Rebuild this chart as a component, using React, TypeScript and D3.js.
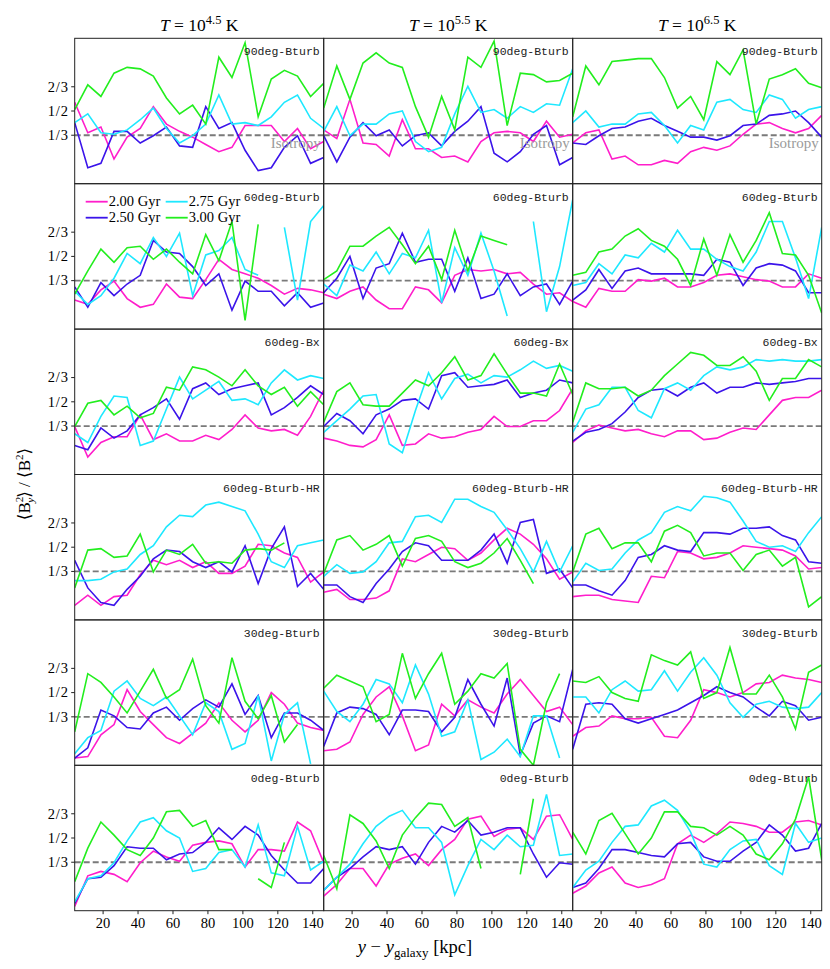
import React from "react";
import * as d3 from "d3";

// bin centres along the slab (kpc)
const xs = [3.75, 11.25, 18.75, 26.25, 33.75, 41.25, 48.75, 56.25, 63.75, 71.25, 78.75, 86.25, 93.75, 101.25, 108.75, 116.25, 123.75, 131.25, 138.75, 146.25];

const times = ["2.00 Gyr", "2.50 Gyr", "2.75 Gyr", "3.00 Gyr"];
const colors = ["#ff1ecb", "#3b14ea", "#1ee8ff", "#22ee1e"];
const temps = ["4.5", "5.5", "6.5"];
const setups = ["90deg-Bturb", "60deg-Bturb", "60deg-Bx", "60deg-Bturb-HR", "30deg-Bturb", "0deg-Bturb"];
const xTicks = [20, 40, 60, 80, 100, 120, 140];
const yTicks = [1 / 3, 1 / 2, 2 / 3];
const yTickLabels = ["1/3", "1/2", "2/3"];

type S = (number | null)[];
const _ = null;

// each panel: [2.00, 2.50, 2.75, 3.00 Gyr]
const bturb90_T45: S[] = [
  [0.56, 0.35, 0.39, 0.17, 0.32, 0.38, 0.53, 0.41, 0.36, 0.32, 0.27, 0.22, 0.25, 0.40, 0.40, 0.40, 0.29, 0.38, 0.24, 0.29],
  [0.42, 0.11, 0.14, 0.36, 0.36, 0.28, 0.33, 0.39, 0.26, 0.25, 0.53, 0.38, 0.42, 0.23, 0.09, 0.11, 0.25, 0.33, 0.14, 0.18],
  [0.42, 0.48, 0.35, 0.34, 0.37, 0.44, 0.52, 0.38, 0.28, 0.33, 0.41, 0.61, 0.41, 0.42, 0.40, 0.46, 0.56, 0.61, 0.45, 0.38],
  [0.51, 0.68, 0.60, 0.76, 0.80, 0.79, 0.74, 0.59, 0.48, 0.54, 0.41, 0.87, 0.73, 0.97, 0.46, 0.72, 0.78, 0.74, 0.60, 0.69],
];
const bturb90_T55: S[] = [
  [0.37, 0.31, 0.58, 0.28, 0.27, 0.19, 0.44, 0.24, 0.24, 0.18, 0.19, 0.15, 0.29, 0.35, 0.36, 0.35, 0.29, 0.43, 0.32, 0.34],
  [0.33, 0.15, 0.32, 0.42, 0.33, 0.37, 0.26, 0.33, 0.35, 0.26, 0.36, 0.43, 0.53, 0.21, 0.15, 0.22, 0.34, 0.40, 0.13, 0.18],
  [0.36, 0.53, 0.33, 0.41, 0.41, 0.48, 0.50, 0.29, 0.22, 0.25, 0.48, 0.67, 0.49, 0.51, 0.45, 0.53, 0.49, 0.55, 0.54, 0.79],
  [0.52, 0.81, 0.58, 0.83, 0.90, 0.83, 0.80, 0.53, 0.32, 0.60, 0.37, 0.87, 0.80, 0.98, 0.40, 0.76, 0.75, 0.70, 0.71, 0.76],
];
const bturb90_T65: S[] = [
  [0.28, 0.35, 0.37, 0.17, 0.19, 0.13, 0.13, 0.16, 0.14, 0.22, 0.25, 0.23, 0.26, 0.34, 0.41, 0.42, 0.38, 0.35, 0.38, 0.47],
  [0.28, 0.27, 0.33, 0.38, 0.39, 0.43, 0.45, 0.40, 0.36, 0.32, 0.32, 0.30, 0.33, 0.40, 0.41, 0.47, 0.48, 0.50, 0.42, 0.32],
  [0.42, 0.50, 0.39, 0.41, 0.41, 0.48, 0.49, 0.40, 0.28, 0.40, 0.37, 0.56, 0.58, 0.51, 0.49, 0.61, 0.58, 0.45, 0.51, 0.53],
  [0.46, 0.81, 0.68, 0.84, 0.85, 0.86, 0.86, 0.73, 0.52, 0.60, 0.44, 0.84, 0.75, 0.92, 0.41, 0.72, 0.75, 0.79, 0.69, 0.66],
];

const bturb60_T45: S[] = [
  [0.20, 0.17, 0.27, 0.33, 0.21, 0.15, 0.17, 0.31, 0.22, 0.21, 0.34, 0.48, 0.41, 0.38, 0.35, 0.30, 0.24, 0.28, 0.27, 0.25],
  [0.29, 0.15, 0.32, 0.23, 0.31, 0.37, 0.61, 0.53, 0.52, 0.43, 0.30, 0.38, 0.13, 0.33, 0.26, 0.26, 0.16, 0.25, 0.15, 0.18],
  [0.26, 0.17, 0.23, 0.35, 0.52, 0.45, 0.63, 0.50, 0.66, 0.23, 0.51, 0.54, 0.63, 0.41, 0.37, _, 0.70, 0.20, 0.74, 0.85],
  [0.24, 0.40, 0.55, 0.46, 0.56, 0.57, 0.48, 0.55, 0.46, 0.38, 0.65, 0.47, 0.74, 0.06, 0.72, _, _, _, _, _],
];
const bturb60_T55: S[] = [
  [0.24, 0.21, 0.26, 0.29, 0.20, 0.14, 0.14, 0.29, 0.27, 0.18, 0.37, 0.41, 0.40, 0.41, 0.38, 0.39, 0.31, 0.24, 0.25, 0.19],
  [0.25, 0.35, 0.50, 0.21, 0.42, 0.45, 0.66, 0.46, 0.48, 0.48, 0.26, 0.49, 0.21, 0.24, 0.38, 0.23, 0.29, 0.31, 0.17, 0.33],
  [0.31, 0.23, 0.44, 0.40, 0.53, 0.38, 0.52, 0.49, 0.68, 0.18, 0.56, 0.37, 0.66, 0.40, 0.09, _, 0.74, 0.12, 0.43, 0.89],
  [0.34, 0.40, 0.57, 0.57, 0.64, 0.70, 0.58, 0.45, 0.57, 0.34, 0.68, 0.40, 0.64, 0.61, 0.58, _, _, _, _, _],
];
const bturb60_T65: S[] = [
  [0.19, 0.15, 0.28, 0.26, 0.26, 0.34, 0.33, 0.35, 0.29, 0.29, 0.32, 0.37, 0.38, 0.36, 0.34, 0.33, 0.29, 0.29, 0.38, 0.35],
  [0.20, 0.27, 0.41, 0.28, 0.40, 0.42, 0.38, 0.38, 0.38, 0.38, 0.37, 0.48, 0.46, 0.30, 0.42, 0.45, 0.44, 0.40, 0.25, 0.25],
  [0.30, 0.32, 0.45, 0.38, 0.51, 0.49, 0.59, 0.53, 0.68, 0.55, 0.55, 0.48, 0.43, 0.40, 0.53, 0.74, 0.74, 0.49, 0.21, 0.70],
  [0.37, 0.39, 0.53, 0.55, 0.64, 0.69, 0.61, 0.57, 0.48, 0.30, 0.62, 0.37, 0.65, 0.46, 0.61, 0.80, 0.52, 0.51, 0.37, 0.11],
];

const bx60_T45: S[] = [
  [0.33, 0.12, 0.22, 0.26, 0.26, 0.41, 0.24, 0.28, 0.23, 0.23, 0.27, 0.24, 0.31, 0.41, 0.32, 0.30, 0.31, 0.27, 0.40, 0.58],
  [0.20, 0.17, 0.32, 0.25, 0.30, 0.41, 0.46, 0.52, 0.38, 0.59, 0.63, 0.55, 0.59, 0.61, 0.63, 0.41, 0.46, 0.53, 0.61, 0.55],
  [0.28, 0.22, 0.40, 0.54, 0.53, 0.20, 0.23, 0.45, 0.67, 0.52, 0.58, 0.64, 0.51, 0.52, 0.48, 0.63, 0.72, 0.65, 0.68, 0.66],
  [0.33, 0.49, 0.51, 0.41, 0.47, 0.39, 0.42, 0.60, 0.58, 0.74, 0.72, 0.67, 0.61, 0.72, 0.61, 0.55, 0.60, 0.47, 0.57, 0.48],
];
const bx60_T55: S[] = [
  [0.25, 0.23, 0.20, 0.19, 0.24, 0.41, 0.20, 0.21, 0.28, 0.25, 0.26, 0.29, 0.31, 0.40, 0.33, 0.33, 0.37, 0.37, 0.44, 0.59],
  [0.33, 0.42, 0.37, 0.28, 0.41, 0.45, 0.51, 0.52, 0.45, 0.68, 0.70, 0.60, 0.61, 0.62, 0.65, 0.53, 0.56, 0.58, 0.65, 0.63],
  [0.29, 0.37, 0.45, 0.54, 0.55, 0.21, 0.15, 0.44, 0.70, 0.52, 0.66, 0.69, 0.63, 0.68, 0.67, 0.72, 0.78, 0.73, 0.75, 0.71],
  [0.36, 0.57, 0.63, 0.48, 0.47, 0.47, 0.56, 0.65, 0.61, 0.70, 0.81, 0.65, 0.68, 0.83, 0.69, 0.56, 0.56, 0.54, 0.76, 0.55],
];
const bx60_T65: S[] = [
  [0.22, 0.30, 0.34, 0.32, 0.30, 0.31, 0.28, 0.26, 0.30, 0.30, 0.24, 0.25, 0.29, 0.32, 0.31, 0.41, 0.51, 0.53, 0.53, 0.58],
  [0.23, 0.29, 0.31, 0.35, 0.43, 0.53, 0.58, 0.59, 0.54, 0.60, 0.63, 0.56, 0.60, 0.60, 0.63, 0.62, 0.63, 0.64, 0.66, 0.66],
  [0.29, 0.45, 0.48, 0.60, 0.60, 0.44, 0.39, 0.59, 0.63, 0.58, 0.68, 0.74, 0.72, 0.74, 0.79, 0.78, 0.79, 0.78, 0.78, 0.79],
  [0.36, 0.63, 0.59, 0.59, 0.60, 0.54, 0.58, 0.68, 0.76, 0.84, 0.82, 0.75, 0.75, 0.81, 0.71, 0.51, 0.66, 0.66, 0.79, 0.74],
];

const bturbHR_T45: S[] = [
  [0.10, 0.17, 0.10, 0.16, 0.17, 0.31, 0.41, 0.38, 0.41, 0.36, 0.40, 0.32, 0.32, 0.37, 0.52, 0.51, 0.46, 0.43, 0.26, 0.33],
  [0.41, 0.22, 0.12, 0.10, 0.21, 0.30, 0.42, 0.48, 0.47, 0.40, 0.36, 0.40, 0.33, 0.51, 0.25, 0.49, 0.64, 0.23, 0.32, 0.21],
  [0.27, 0.27, 0.28, 0.33, 0.35, 0.45, 0.51, 0.64, 0.72, 0.71, 0.79, 0.81, 0.78, 0.75, 0.59, 0.40, 0.36, 0.51, 0.53, 0.55],
  [0.22, 0.48, 0.49, 0.43, 0.44, 0.59, 0.33, 0.48, 0.45, 0.52, 0.39, 0.40, 0.39, 0.48, 0.49, 0.48, 0.53, _, _, _],
];
const bturbHR_T55: S[] = [
  [0.19, 0.21, 0.14, 0.14, 0.15, 0.20, 0.42, 0.40, 0.45, 0.50, 0.49, 0.41, 0.46, 0.55, 0.63, 0.59, 0.52, 0.42, 0.28, 0.33],
  [0.24, 0.24, 0.16, 0.12, 0.25, 0.35, 0.47, 0.53, 0.51, 0.41, 0.41, 0.41, 0.48, 0.59, 0.39, 0.67, 0.69, 0.32, 0.35, 0.22],
  [0.30, 0.38, 0.32, 0.33, 0.40, 0.53, 0.54, 0.71, 0.72, 0.67, 0.83, 0.83, 0.78, 0.74, 0.62, 0.49, 0.33, 0.54, 0.33, 0.51],
  [0.32, 0.55, 0.58, 0.48, 0.52, 0.58, 0.37, 0.56, 0.58, 0.54, 0.40, 0.36, 0.39, 0.46, 0.56, 0.41, 0.25, _, _, _],
];
const bturbHR_T65: S[] = [
  [0.16, 0.17, 0.17, 0.14, 0.13, 0.12, 0.30, 0.29, 0.47, 0.46, 0.42, 0.43, 0.46, 0.51, 0.50, 0.49, 0.48, 0.44, 0.35, 0.36],
  [0.24, 0.24, 0.20, 0.17, 0.27, 0.43, 0.45, 0.51, 0.48, 0.47, 0.60, 0.60, 0.59, 0.63, 0.63, 0.64, 0.58, 0.55, 0.40, 0.39],
  [0.26, 0.39, 0.34, 0.35, 0.46, 0.55, 0.60, 0.74, 0.78, 0.75, 0.85, 0.84, 0.81, 0.68, 0.54, 0.50, 0.51, 0.47, 0.60, 0.71],
  [0.33, 0.59, 0.63, 0.49, 0.53, 0.53, 0.40, 0.61, 0.65, 0.60, 0.44, 0.46, 0.46, 0.34, 0.45, 0.48, 0.37, 0.43, 0.09, 0.16],
];

const bturb30_T45: S[] = [
  [0.05, 0.06, 0.21, 0.28, 0.52, 0.37, 0.28, 0.19, 0.15, 0.22, 0.29, 0.43, 0.31, 0.23, 0.31, 0.50, 0.42, 0.29, 0.26, 0.24],
  [0.05, 0.12, 0.38, 0.34, 0.26, 0.25, 0.36, 0.40, 0.31, 0.39, 0.45, 0.40, 0.56, 0.35, 0.48, 0.19, 0.36, 0.36, 0.31, 0.24],
  [0.08, 0.19, 0.24, 0.51, 0.58, 0.46, 0.41, 0.47, 0.34, 0.21, 0.43, 0.37, 0.11, 0.15, 0.48, 0.03, 0.35, 0.43, 0.01, _],
  [0.23, 0.63, 0.57, 0.47, 0.36, 0.51, 0.66, 0.46, 0.52, 0.73, 0.41, 0.29, 0.74, 0.44, 0.32, 0.48, 0.16, 0.28, _, _],
];
const bturb30_T55: S[] = [
  [0.10, 0.11, 0.16, 0.35, 0.47, 0.54, 0.34, 0.10, 0.14, 0.42, 0.34, 0.45, 0.40, 0.36, 0.49, 0.59, 0.48, 0.37, 0.40, 0.28],
  [0.13, 0.36, 0.40, 0.39, 0.35, 0.21, 0.38, 0.38, 0.37, 0.23, 0.33, 0.59, 0.42, 0.27, 0.60, 0.07, 0.29, 0.34, 0.30, 0.66],
  [0.51, 0.37, 0.30, 0.42, 0.59, 0.56, 0.43, 0.69, 0.49, 0.20, 0.23, 0.45, 0.04, 0.09, 0.18, 0.06, 0.34, 0.34, 0.05, _],
  [0.53, 0.62, 0.58, 0.54, 0.30, 0.35, 0.77, 0.46, 0.63, 0.77, 0.42, 0.51, 0.63, 0.60, 0.70, 0.11, 0.00, 0.43, 0.63, _],
];
const bturb30_T65: S[] = [
  [0.20, 0.26, 0.27, 0.34, 0.32, 0.32, 0.33, 0.20, 0.19, 0.31, 0.52, 0.50, 0.47, 0.50, 0.56, 0.57, 0.62, 0.60, 0.59, 0.57],
  [0.11, 0.42, 0.43, 0.42, 0.32, 0.29, 0.32, 0.35, 0.38, 0.43, 0.48, 0.54, 0.50, 0.47, 0.40, 0.34, 0.44, 0.41, 0.31, 0.33],
  [0.47, 0.47, 0.36, 0.52, 0.58, 0.51, 0.52, 0.65, 0.51, 0.64, 0.74, 0.62, 0.43, 0.33, 0.42, 0.44, 0.40, 0.39, 0.40, 0.50],
  [0.58, 0.57, 0.61, 0.50, 0.46, 0.44, 0.76, 0.72, 0.69, 0.78, 0.46, 0.50, 0.81, 0.49, 0.49, 0.62, 0.47, 0.25, 0.64, 0.69],
];

const bturb0_T45: S[] = [
  [0.03, 0.24, 0.27, 0.25, 0.20, 0.33, 0.41, 0.37, 0.34, 0.45, 0.47, 0.48, 0.46, 0.30, 0.42, 0.42, 0.41, 0.61, 0.55, 0.33],
  [0.05, 0.22, 0.23, 0.31, 0.44, 0.43, 0.43, 0.35, 0.39, 0.40, 0.47, 0.57, 0.49, 0.58, 0.52, 0.38, 0.28, 0.19, 0.19, 0.29],
  [0.06, 0.22, 0.24, 0.33, 0.48, 0.61, 0.64, 0.55, 0.50, 0.27, 0.29, 0.40, 0.42, 0.30, 0.59, 0.26, 0.24, 0.58, 0.28, 0.34],
  [0.20, 0.43, 0.61, 0.52, 0.42, 0.38, 0.50, 0.68, 0.69, 0.58, 0.62, 0.42, 0.42, _, 0.22, 0.16, 0.47, _, _, _],
];
const bturb0_T55: S[] = [
  [0.10, 0.18, 0.29, 0.29, 0.17, 0.32, 0.36, 0.39, 0.31, 0.42, 0.49, 0.63, 0.65, 0.51, 0.56, 0.57, 0.49, 0.65, 0.66, 0.49],
  [0.14, 0.23, 0.29, 0.37, 0.44, 0.42, 0.44, 0.32, 0.47, 0.58, 0.54, 0.62, 0.52, 0.54, 0.57, 0.57, 0.39, 0.23, 0.33, 0.32],
  [0.14, 0.23, 0.32, 0.46, 0.58, 0.65, 0.69, 0.57, 0.57, 0.47, 0.11, 0.31, 0.49, 0.42, 0.52, 0.44, 0.45, 0.80, 0.38, 0.39],
  [0.38, 0.15, 0.66, 0.60, 0.48, 0.29, 0.52, 0.64, 0.74, 0.73, 0.58, 0.64, 0.29, _, _, 0.25, 0.77, _, _, _],
];
const bturb0_T65: S[] = [
  [0.12, 0.17, 0.26, 0.30, 0.19, 0.16, 0.18, 0.22, 0.46, 0.52, 0.47, 0.53, 0.61, 0.60, 0.58, 0.54, 0.54, 0.61, 0.62, 0.59],
  [0.16, 0.19, 0.29, 0.42, 0.42, 0.40, 0.38, 0.37, 0.46, 0.47, 0.37, 0.34, 0.34, 0.41, 0.47, 0.59, 0.52, 0.41, 0.43, 0.60],
  [0.16, 0.28, 0.34, 0.47, 0.58, 0.59, 0.72, 0.76, 0.69, 0.54, 0.32, 0.30, 0.42, 0.48, 0.49, 0.31, 0.25, 0.60, 0.47, 0.50],
  [0.54, 0.39, 0.62, 0.67, 0.53, 0.39, 0.50, 0.68, 0.68, 0.58, 0.57, 0.52, 0.58, 0.52, 0.39, 0.35, 0.46, 0.63, 0.92, 0.35],
];

const panels: S[][][] = [
  [bturb90_T45, bturb90_T55, bturb90_T65],
  [bturb60_T45, bturb60_T55, bturb60_T65],
  [bx60_T45, bx60_T55, bx60_T65],
  [bturbHR_T45, bturbHR_T55, bturbHR_T65],
  [bturb30_T45, bturb30_T55, bturb30_T65],
  [bturb0_T45, bturb0_T55, bturb0_T65],
];

const W = 830;
const H = 969;
const left = 74.7;
const top = 38.3;
const pw = 249;
const ph = 145.4;

const serif = "'Liberation Serif', 'DejaVu Serif', serif";
const mono = "'Liberation Mono', 'DejaVu Sans Mono', monospace";

const App: React.FC = () => {
  const x = d3.scaleLinear().domain([3.75, 146.25]).range([0, pw]);
  const y = d3.scaleLinear().domain([0, 1]).range([ph, 0]);
  const line = d3
    .line<number | null>()
    .defined((d) => d !== null)
    .x((_d, i) => x(xs[i]))
    .y((d) => y(d as number));

  return (
    <svg
      width={W}
      height={H}
      style={{ position: "absolute", left: 0, top: 0, background: "#fff" }}
      fontFamily={serif}
    >
      <defs>
        <clipPath id="panelClip">
          <rect x={0} y={0} width={pw} height={ph} />
        </clipPath>
      </defs>

      {/* column titles */}
      {temps.map((t, c) => (
        <text key={t} x={left + c * pw + pw / 2} y={31} textAnchor="middle" fontSize={17.5}>
          <tspan fontStyle="italic">T</tspan>
          <tspan> = 10</tspan>
          <tspan fontSize={12.5} dy={-7}>{t}</tspan>
          <tspan dy={7}> K</tspan>
        </text>
      ))}

      {panels.map((row, r) =>
        row.map((series, c) => (
          <g key={`${r}-${c}`} transform={`translate(${left + c * pw},${top + r * ph})`}>
            <line
              x1={0}
              x2={pw}
              y1={y(1 / 3)}
              y2={y(1 / 3)}
              stroke="#7a7a7a"
              strokeWidth={1.8}
              strokeDasharray="6,3"
            />
            <g clipPath="url(#panelClip)">
              {series.map((s, k) => (
                <path key={k} d={line(s) || ""} fill="none" stroke={colors[k]} strokeWidth={1.6} />
              ))}
            </g>
            <rect x={0} y={0} width={pw} height={ph} fill="none" stroke="#222" strokeWidth={1} />
            <text x={pw - 4} y={17} textAnchor="end" fontFamily={mono} fontSize={11.5} fill="#222">
              {setups[r]}
            </text>
            {r === 0 && (
              <text x={pw - 3} y={y(1 / 3) + 13} textAnchor="end" fontSize={15} fill="#9a9a9a">
                Isotropy
              </text>
            )}
            {c === 0 &&
              yTicks.map((v, i) => (
                <g key={i} transform={`translate(0,${y(v)})`}>
                  <line x1={-3.5} x2={0} stroke="#222" />
                  <text x={-6} dy="0.33em" textAnchor="end" fontSize={14.5} letterSpacing={0.8}>
                    {yTickLabels[i]}
                  </text>
                </g>
              ))}
            {r === panels.length - 1 &&
              xTicks.map((v) => (
                <g key={v} transform={`translate(${x(v)},${ph})`}>
                  <line y1={0} y2={3.5} stroke="#222" />
                  <text y={17} textAnchor="middle" fontSize={14.5}>
                    {v}
                  </text>
                </g>
              ))}
          </g>
        ))
      )}

      {/* legend in the second row, first column */}
      <g transform={`translate(${left},${top + ph})`}>
        {times.map((t, k) => {
          const col = Math.floor(k / 2);
          const rr = k % 2;
          const lx = 11 + col * 80;
          const ly = 18 + rr * 16;
          return (
            <g key={t} transform={`translate(${lx},${ly})`}>
              <line x1={0} x2={22} stroke={colors[k]} strokeWidth={1.8} />
              <text x={23} dy="0.33em" fontSize={14.5}>
                {t}
              </text>
            </g>
          );
        })}
      </g>

      {/* axis labels */}
      <text x={415} y={953} textAnchor="middle" fontSize={18.5}>
        <tspan fontStyle="italic">y</tspan>
        <tspan> − </tspan>
        <tspan fontStyle="italic">y</tspan>
        <tspan fontSize={13} dy={4}>galaxy</tspan>
        <tspan dy={-4}> [kpc]</tspan>
      </text>
      <text transform="translate(30,484) rotate(-90)" textAnchor="middle" fontSize={17}>
        <tspan>⟨B</tspan>
        <tspan fontSize={11} dy={-7}>2</tspan>
        <tspan fontSize={11} fontStyle="italic" dx={-6} dy={11}>y</tspan>
        <tspan dy={-4}>⟩ / ⟨B</tspan>
        <tspan fontSize={11} dy={-7}>2</tspan>
        <tspan dy={7}>⟩</tspan>
      </text>
    </svg>
  );
};

export default App;
